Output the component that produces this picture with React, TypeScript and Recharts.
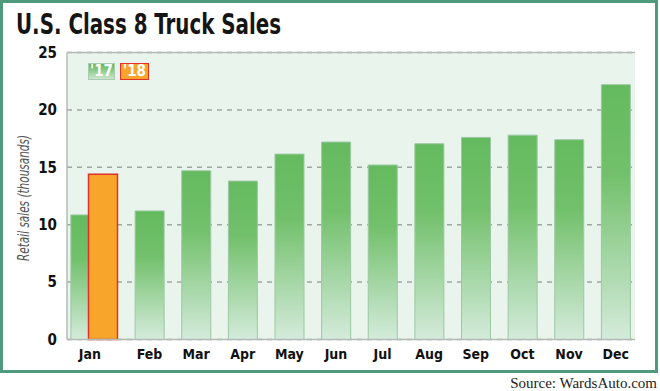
import React from "react";
import {
  BarChart,
  Bar,
  XAxis,
  YAxis,
  CartesianGrid,
  Legend,
  ReferenceLine,
} from "recharts";

const months = ["Jan", "Feb", "Mar", "Apr", "May", "Jun", "Jul", "Aug", "Sep", "Oct", "Nov", "Dec"];
// 2017 retail sales, thousands (Jan drawn on its own shifted axis)
const sales17 = [10.85, 11.2, 14.7, 13.8, 16.15, 17.2, 15.2, 17.05, 17.6, 17.8, 17.4, 22.2];
// 2018 retail sales, only January available
const sales18 = [14.4, null, null, null, null, null, null, null, null, null, null, null];
const yTicks = [0, 5, 10, 15, 20, 25];

const data = months.map((m, i) => ({
  month: m,
  jan17: i === 0 ? sales17[i] : null,
  y17: i === 0 ? null : sales17[i],
  y18: sales18[i],
}));

const condensed = "'DejaVu Sans Condensed', 'Liberation Sans Narrow', sans-serif";
const borderGray = "#b3bcb7";

const MonthTick = (props: any) => {
  const { x, y, payload } = props;
  const dx = payload.index === 0 ? -13 : 0;
  return (
    <text
      x={x + dx}
      y={y}
      dy="0.71em"
      textAnchor="middle"
      fill="#111"
      fontFamily={condensed}
      fontWeight="bold"
      fontSize={14}
    >
      {payload.value}
    </text>
  );
};

const YLabel = (props: any) => {
  const { viewBox } = props;
  const cx = viewBox.x + 17;
  const cy = 198;
  return (
    <text
      x={cx}
      y={cy}
      transform={`rotate(-90 ${cx} ${cy})`}
      textAnchor="middle"
      dominantBaseline="central"
      fill="#555"
      fontFamily={condensed}
      fontStyle="italic"
      fontSize={15.5}
      textLength={126}
      lengthAdjust="spacingAndGlyphs"
    >
      Retail sales (thousands)
    </text>
  );
};

const legendText = {
  color: "#fff",
  fontFamily: condensed,
  fontWeight: "bold" as const,
  fontSize: 15,
  textAlign: "center" as const,
  boxSizing: "border-box" as const,
  height: 17,
};

const LegendBoxes = () => (
  <div style={{ display: "flex", gap: 5 }}>
    <div
      style={{
        ...legendText,
        width: 27,
        border: "1px solid #a9cbb1",
        background: "linear-gradient(#5eb75c, #cbe6cf)",
        lineHeight: "15px",
      }}
    >
      '17
    </div>
    <div
      style={{
        ...legendText,
        width: 29,
        border: "1.5px solid #e2302b",
        background: "#f8a62b",
        lineHeight: "14px",
      }}
    >
      '18
    </div>
  </div>
);

export default function App() {
  return (
    <div
      style={{
        position: "absolute",
        left: 0,
        top: 0,
        width: 660,
        height: 391,
        background: "#fff",
        overflow: "hidden",
      }}
    >
      <div
        style={{
          position: "absolute",
          left: 0,
          top: 0,
          width: 658,
          height: 373,
          boxSizing: "border-box",
          border: "3px solid #4f9a7d",
        }}
      />
      <BarChart
        width={660}
        height={391}
        data={data}
        margin={{ top: 52.5, right: 25, bottom: 21.5, left: 7 }}
        style={{ position: "absolute", left: 0, top: 0 }}
      >
        <defs>
          <linearGradient id="greenBar" x1="0" y1="0" x2="0" y2="1">
            <stop offset="0%" stopColor="#64ba5e" />
            <stop offset="35%" stopColor="#72c06b" />
            <stop offset="100%" stopColor="#d4ebdb" />
          </linearGradient>
        </defs>
        <CartesianGrid
          vertical={false}
          fill="#e9f4ec"
          stroke="#9ea6a1"
          strokeWidth={1.5}
          strokeDasharray="5 5"
        />
        <XAxis
          dataKey="month"
          padding={{ left: 12.5, right: -4 }}
          axisLine={{ stroke: borderGray, strokeWidth: 1.5 }}
          tickLine={false}
          tickMargin={4}
          tick={<MonthTick />}
          interval={0}
        />
        <XAxis xAxisId="b" dataKey="month" hide padding={{ left: 12.5, right: -4 }} />
        <XAxis xAxisId="c" dataKey="month" hide padding={{ left: -5.1, right: 13.6 }} />
        <YAxis
          width={60}
          domain={[0, 25]}
          ticks={yTicks}
          interval={0}
          axisLine={{ stroke: borderGray, strokeWidth: 1.5 }}
          tickLine={false}
          tickMargin={4}
          tick={{ fill: "#111", fontFamily: condensed, fontWeight: "bold", fontSize: 15 }}
          label={<YLabel />}
        />
        <YAxis
          yAxisId="r"
          orientation="right"
          width={0}
          tick={false}
          tickLine={false}
          axisLine={{ stroke: borderGray, strokeWidth: 1.5 }}
        />
        <ReferenceLine y={25} stroke={borderGray} strokeWidth={1.5} />
        <Legend
          layout="vertical"
          verticalAlign="middle"
          align="center"
          content={<LegendBoxes />}
          wrapperStyle={{ left: 88, top: 63, width: "auto" }}
        />
        <Bar
          dataKey="jan17"
          xAxisId="c"
          barSize={29}
          fill="url(#greenBar)"
          stroke="#9cc8a3"
          strokeWidth={1}
          legendType="none"
          isAnimationActive={false}
        />
        <Bar
          dataKey="y17"
          barSize={29}
          fill="url(#greenBar)"
          stroke="#9cc8a3"
          strokeWidth={1}
          isAnimationActive={false}
        />
        <Bar
          dataKey="y18"
          xAxisId="b"
          barSize={29}
          fill="#f8a62b"
          stroke="#e2302b"
          strokeWidth={1.5}
          isAnimationActive={false}
        />
      </BarChart>
      <svg
        width={660}
        height={391}
        style={{ position: "absolute", left: 0, top: 0, pointerEvents: "none" }}
      >
        <text
          x={16}
          y={34}
          fill="#151515"
          fontFamily={condensed}
          fontWeight="bold"
          fontSize={28}
          textLength={265}
          lengthAdjust="spacingAndGlyphs"
        >
          U.S. Class 8 Truck Sales
        </text>
        <text
          x={657}
          y={388}
          textAnchor="end"
          fill="#222"
          fontFamily="'Liberation Serif', 'DejaVu Serif', serif"
          fontSize={15}
        >
          Source: WardsAuto.com
        </text>
      </svg>
    </div>
  );
}
